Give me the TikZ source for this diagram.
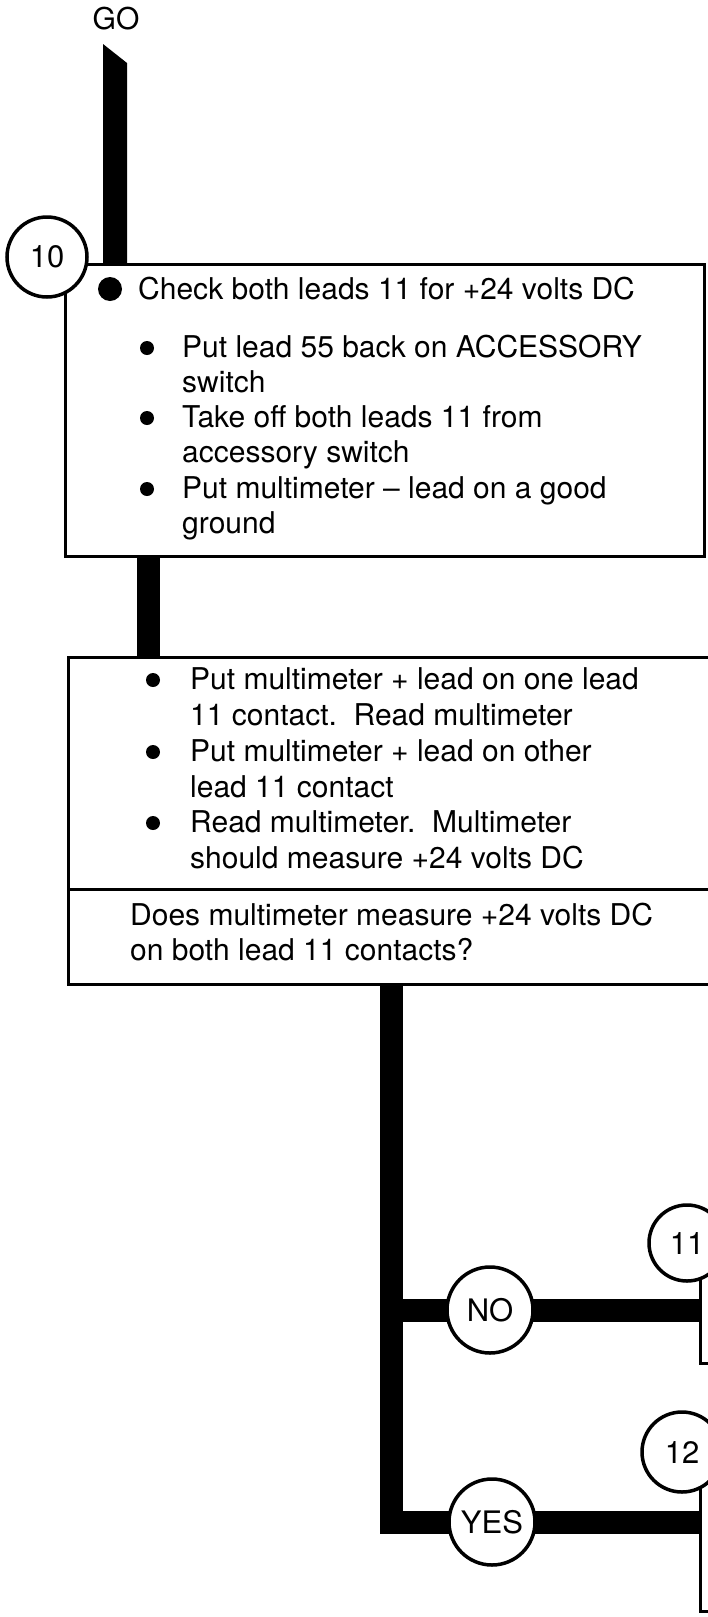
\documentclass[tikz,border=0pt]{standalone}
\usepackage{fontspec}
\setmainfont{TeX Gyre Heros}
\begin{document}
\begin{tikzpicture}[x=1pt, y=-1pt,
    box/.style={draw, line width=2.5pt, fill=white, inner sep=0pt, anchor=north west},
    bar/.style={line width=23pt},
    tag/.style={circle, draw, line width=3.5pt, fill=white, inner sep=0pt, font=\fontsize{31}{36}\selectfont},
    txt/.style={anchor=base west, inner sep=0pt, font=\fontsize{30}{36}\selectfont},
    dot/.style={circle, fill, inner sep=0pt, minimum size=14pt}]
    \useasboundingbox (0,0) rectangle (708,1617);
    \clip (0,0) rectangle (708,1617);

    % Boxes
    \node[box, minimum width=639pt, minimum height=292pt] (box10) at (64,263) {};
    \node[box, minimum width=700pt, minimum height=232pt] (steps10) at (67,656) {};
    \node[box, minimum width=700pt, minimum height=95pt] (ask10) at (67,888) {};
    \node[box, minimum width=120pt, minimum height=113pt] (box11) at (699,1249) {};
    \node[box, minimum width=120pt, minimum height=152pt] (box12) at (699,1458) {};

    % Start and flow lines
    \node[font=\fontsize{30}{36}\selectfont] (go) at (116,19) {GO};
    \coordinate (goL) at (103,44);
    \coordinate (goR) at (127,63);
    \fill (goL) -- (goR) -- (goR |- box10.north) -- (goL |- box10.north) -- cycle;

    \coordinate (link) at (148,555);
    \draw[bar] (link) -- (link |- steps10.north);

    \coordinate (fork) at (391,983);
    \coordinate (noPos) at (490,1310);
    \coordinate (yesPos) at (492,1522);
    \draw[bar] (fork) |- (yesPos) -- (yesPos -| box12.west);
    \draw[bar] (fork |- noPos) -- (noPos -| box11.west);
    \node[tag, minimum size=86pt] (no) at (noPos) {NO};
    \node[tag, minimum size=86pt] (yes) at (yesPos) {YES};

    % Step numbers
    \node[tag, minimum size=80pt] (num10) at (47,257) {10};
    \node[tag, minimum size=76pt] (num11) at (687,1243) {11};
    \node[tag, minimum size=80pt] (num12) at (682,1452) {12};

    % Step 10 text
    \node[dot, minimum size=24pt] (b10) at (110,289) {};
    \node[txt] (head10) at (138,299) {Check both leads 11 for +24 volts DC};
    \foreach \ypos/\words in {357/{Put lead 55 back on ACCESSORY}, 392/{switch},
        427/{Take off both leads 11 from}, 462/{accessory switch},
        498/{Put multimeter -- lead on a good}, 533/{ground}}
        \node[txt] (s\ypos) at (182,\ypos) {\words};
    \foreach \ypos in {348,418,489}
        \node[dot] (d\ypos) at (147,\ypos) {};

    \foreach \ypos/\words in {689/{Put multimeter + lead on one lead}, 725/{11 contact.\ \ Read multimeter},
        761/{Put multimeter + lead on other}, 797/{lead 11 contact},
        832/{Read multimeter.\ \ Multimeter}, 868/{should measure +24 volts DC}}
        \node[txt] (s\ypos) at (190,\ypos) {\words};
    \foreach \ypos in {680,752,823}
        \node[dot] (d\ypos) at (153,\ypos) {};

    % Question
    \node[txt] (q1) at (130,925) {Does multimeter measure +24 volts DC};
    \node[txt] (q2) at (130,960) {on both lead 11 contacts?};
\end{tikzpicture}
\end{document}
